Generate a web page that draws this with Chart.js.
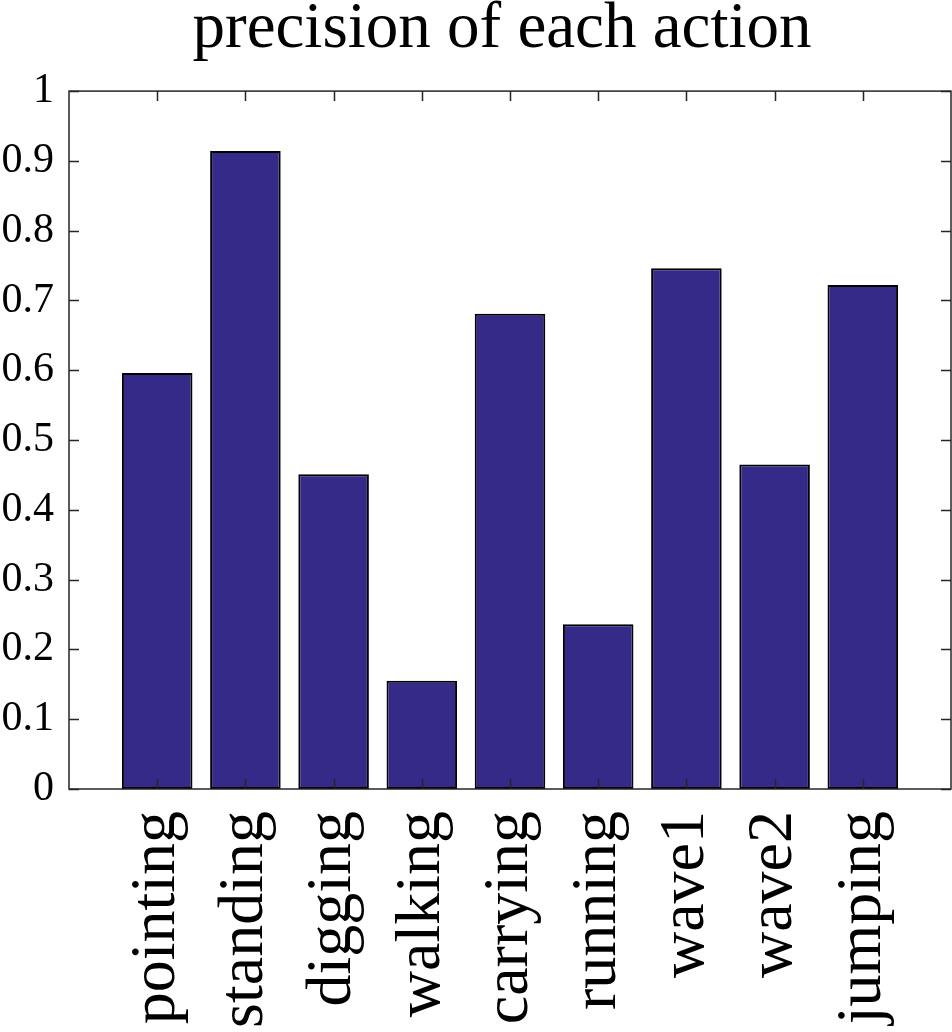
<!DOCTYPE html>
<html>
<head>
<meta charset="utf-8">
<script src="https://cdn.jsdelivr.net/npm/chart.js@4.4.0/dist/chart.umd.min.js"></script>
<style>
  html, body { margin: 0; padding: 0; background: #ffffff; }
  #wrap { width: 952px; height: 1032px; }
</style>
</head>
<body>
<div id="wrap"><canvas id="c" width="952" height="1032"></canvas></div>
<script>
const titleText = 'precision of each action';
const categories = ['pointing', 'standing', 'digging', 'walking', 'carrying', 'running', 'wave1', 'wave2', 'jumping'];
const precision = [0.596, 0.914, 0.451, 0.155, 0.681, 0.236, 0.746, 0.465, 0.722];
const yTickValues = [0, 0.1, 0.2, 0.3, 0.4, 0.5, 0.6, 0.7, 0.8, 0.9, 1];
const yTickLabels = ['0', '0.1', '0.2', '0.3', '0.4', '0.5', '0.6', '0.7', '0.8', '0.9', '1'];

const axisColor = '#262626';
const barColor = '#352A87';
const fontFamily = '"Liberation Serif", "Times New Roman", serif';

const boxAndTicks = {
  id: 'boxAndTicks',
  afterLayout(chart) {
    // nudge title slightly left, as in the reference figure
    if (chart.titleBlock) {
      chart.titleBlock.left -= 8;
      chart.titleBlock.right -= 8;
    }
  },
  afterDatasetsDraw(chart) {
    const { ctx, chartArea: a, scales } = chart;
    const len = 10;
    ctx.save();
    ctx.strokeStyle = axisColor;
    ctx.lineWidth = 1.5;
    ctx.beginPath();
    yTickValues.forEach(v => {
      const y = Math.round(scales.y.getPixelForValue(v)) + 0.5;
      ctx.moveTo(a.left, y); ctx.lineTo(a.left + len, y);
      ctx.moveTo(a.right, y); ctx.lineTo(a.right - len, y);
    });
    categories.forEach((c, i) => {
      const x = Math.round(scales.x.getPixelForValue(i + 1)) + 0.5;
      ctx.moveTo(x, a.bottom); ctx.lineTo(x, a.bottom - len);
      ctx.moveTo(x, a.top); ctx.lineTo(x, a.top + len);
    });
    ctx.stroke();
    ctx.strokeRect(a.left, a.top, a.right - a.left, a.bottom - a.top);
    ctx.restore();
  }
};

new Chart(document.getElementById('c'), {
  type: 'bar',
  data: {
    datasets: [{
      data: categories.map((c, i) => ({ x: i + 1, y: precision[i] })),
      backgroundColor: barColor,
      borderColor: '#000000',
      borderWidth: 2,
      borderSkipped: false,
      categoryPercentage: 0.8,
      barPercentage: 1.0
    }]
  },
  options: {
    responsive: false,
    animation: false,
    devicePixelRatio: 1,
    layout: { padding: { left: 0, right: 1, top: 0, bottom: 0 } },
    plugins: {
      legend: { display: false },
      tooltip: { enabled: false },
      title: {
        display: true,
        text: titleText,
        color: '#000000',
        fullSize: false,
        font: { family: fontFamily, size: 65, weight: 'normal', lineHeight: 0.74 },
        padding: { top: 6, bottom: 37 }
      }
    },
    scales: {
      x: {
        type: 'linear',
        min: 0,
        max: 10,
        offset: false,
        grid: { display: false, offset: false, drawTicks: false },
        border: { display: false },
        afterBuildTicks(scale) {
          scale.ticks = categories.map((c, i) => ({ value: i + 1 }));
        },
        afterFit(scale) {
          scale.height = 243;
          scale.paddingLeft = 0;
          scale.paddingRight = 0;
        },
        ticks: {
          autoSkip: false,
          minRotation: 90,
          maxRotation: 90,
          padding: 22,
          color: '#000000',
          font: { family: fontFamily, size: 64 },
          callback: (v) => categories[Math.round(v) - 1] || ''
        }
      },
      y: {
        type: 'linear',
        min: 0,
        max: 1,
        grid: { display: false, drawTicks: false },
        border: { display: false },
        afterBuildTicks(scale) {
          scale.ticks = yTickValues.map(v => ({ value: v }));
        },
        afterFit(scale) {
          scale.width = 69;
          scale.paddingTop = 0;
          scale.paddingBottom = 0;
        },
        ticks: {
          padding: 15,
          color: '#000000',
          font: { family: fontFamily, size: 42 },
          callback: (v) => {
            const idx = yTickValues.findIndex(t => Math.abs(t - v) < 1e-9);
            return idx >= 0 ? yTickLabels[idx] : '';
          }
        }
      }
    }
  },
  plugins: [boxAndTicks]
});
</script>
</body>
</html>
